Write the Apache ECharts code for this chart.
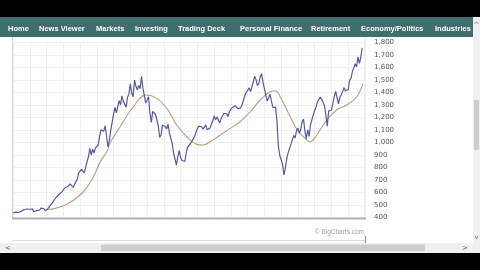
<!DOCTYPE html>
<html><head><meta charset="utf-8">
<script src="https://cdn.jsdelivr.net/npm/echarts@6/dist/echarts.min.js"></script>
<style>html,body{margin:0;padding:0;background:#fff}#c{width:480px;height:270px}</style>
</head><body><div id="c"></div>
<script>
// Monthly closes, starting Dec 1992 (t = 1993.0), one per month
const startYear = 1993.0;
const price = [
436,
439,443,452,440,450,451,448,464,459,468,462,466,
482,467,446,451,457,444,458,475,463,472,454,459,
470,487,501,515,533,545,562,562,584,582,605,616,
636,640,646,654,669,671,640,652,687,705,757,741,
786,791,757,801,848,885,954,899,947,915,955,970,
980,1049,1102,1112,1091,1134,1121,964,1017,1099,1164,1229,
1280,1238,1286,1335,1302,1373,1329,1320,1283,1363,1389,1469,
1394,1366,1499,1452,1421,1455,1431,1530,1437,1429,1315,1320,
1366,1240,1160,1249,1256,1224,1211,1134,1041,1060,1139,1148,
1130,1107,1147,1076,1067,990,912,916,820,886,936,880,
856,841,848,917,964,975,990,1008,996,1051,1058,1112,
1131,1145,1126,1107,1121,1141,1102,1104,1115,1130,1174,1212,
1181,1204,1181,1157,1192,1191,1234,1220,1229,1207,1249,1248,
1280,1281,1295,1311,1270,1270,1277,1304,1336,1378,1401,1418,
1438,1407,1421,1482,1531,1503,1455,1474,1527,1549,1481,1468,
1379,1331,1323,1386,1400,1280,1267,1283,1166,969,896,903,
826,740,798,873,919,919,987,1021,1057,1036,1096,1115,
1074,1104,1169,1187,1089,1031,1102,1049,1141,1183,1181,1258,
1286,1327,1326,1364,1345,1321,1292,1219,1131,1253,1247,1258,
1312,1366,1408,1398,1310,1362,1379,1407,1441,1412,1416,1426,
1498,1515,1569,1598,1631,1606,1686,1633,1682,1757
];
// Moving average at sparse dates
const maYears = [1995.02,1996.21,1997.2,1997.8,1998.2,1998.6,1998.8,1999.39,2000.18,2000.94,2001.58,2002.18,2002.77,2003.37,2003.97,2004.34,2004.76,2005.36,2005.96,2006.55,2007.15,2007.75,2008.34,2008.64,2008.94,2009.54,2009.93,2010.33,2010.73,2011.12,2011.72,2012.31,2012.91,2013.51,2013.88];
const maValues = [460,506,606,726,845,926,1000,1126,1286,1380,1353,1273,1140,1046,985,980,1006,1060,1113,1166,1246,1340,1406,1414,1366,1206,1106,1046,1006,1060,1180,1260,1300,1366,1473];
const navItems = ["Home","News Viewer","Markets","Investing","Trading Deck","Personal Finance","Retirement","Economy/Politics","Industries"];
const navX = [8,39,96,135,178,240,311,361,435];
const yMin = 400, yMax = 1800, yStep = 100;

const priceData = price.map((v,i)=>[startYear + i/12, v]);
const maData = maValues.map((v,i)=>[maYears[i], v]);

const chart = echarts.init(document.getElementById('c'));
const graphics = [
  {type:'rect', z:-5, shape:{x:12.5,y:36,width:352.5,height:182}, style:{fill:'#fff', stroke:'#d6d6d6', lineWidth:1}},
  {type:'line', z:50, shape:{x1:12,y1:218.5,x2:366,y2:218.5}, style:{stroke:'#b2b2b2', lineWidth:2}},
  {type:'rect', z:60, shape:{x:0,y:0,width:480,height:17}, style:{fill:'#000'}},
  {type:'rect', z:60, shape:{x:0,y:17,width:473,height:20}, style:{fill:'#3e6e6d'}},
  {type:'rect', z:60, shape:{x:473,y:17,width:7,height:236}, style:{fill:'#f0f0f0'}},
  {type:'rect', z:61, shape:{x:474,y:100,width:5,height:50}, style:{fill:'#cdcdcd'}},
  {type:'text', z:61, x:476.5, y:25, style:{text:'^', fill:'#666', font:'7px "DejaVu Sans"', align:'center', verticalAlign:'middle'}},
  {type:'text', z:61, x:476.5, y:237, style:{text:'v', fill:'#666', font:'6px "DejaVu Sans"', align:'center', verticalAlign:'middle'}},
  {type:'text', z:60, x:364, y:232, style:{text:'© BigCharts.com', fill:'#a0a0a0', font:'6.5px "Liberation Sans"', align:'right', verticalAlign:'middle'}},
  {type:'line', z:60, shape:{x1:12,y1:240.5,x2:365,y2:240.5}, style:{stroke:'#dcdcdc', lineWidth:1}},
  {type:'line', z:60, shape:{x1:365.5,y1:236,x2:365.5,y2:243}, style:{stroke:'#888', lineWidth:1}},
  {type:'rect', z:60, shape:{x:0,y:243,width:473,height:10}, style:{fill:'#f0f0f0'}},
  {type:'rect', z:61, shape:{x:101,y:244.5,width:324,height:6.5}, style:{fill:'#cdcdcd'}},
  {type:'text', z:61, x:8, y:248, style:{text:'<', fill:'#555', font:'7px "DejaVu Sans"', align:'center', verticalAlign:'middle'}},
  {type:'text', z:61, x:465, y:248, style:{text:'>', fill:'#555', font:'7px "DejaVu Sans"', align:'center', verticalAlign:'middle'}},
  {type:'rect', z:60, shape:{x:0,y:253,width:480,height:17}, style:{fill:'#000'}}
];
navItems.forEach((t,i)=>graphics.push({type:'text', z:62, x:navX[i], y:28.5, style:{text:t, fill:'#fff', font:'bold 7.5px "Liberation Sans"', align:'left', verticalAlign:'middle'}}));

chart.setOption({
  animation:false,
  backgroundColor:'#fff',
  grid:{left:13, right:115, top:42.5, bottom:52.5},
  xAxis:{type:'value', min:1993, max:2014, interval:1,
    axisLine:{show:false}, axisTick:{show:false}, axisLabel:{show:false},
    splitLine:{show:true, lineStyle:{color:'#eeeef4', width:1}}},
  yAxis:{type:'value', position:'right', min:yMin, max:yMax, interval:yStep,
    axisLine:{show:false}, axisTick:{show:false},
    axisLabel:{margin:9, color:'#555', fontSize:7, fontFamily:'DejaVu Sans',
      formatter:v=>v.toLocaleString('en-US')},
    splitLine:{show:true, lineStyle:{color:'#eeeef4', width:1}}},
  series:[
    {type:'line', data:maData, smooth:0.4, symbol:'none', lineStyle:{color:'#bb9c7c', width:1.1}, z:3},
    {type:'line', data:priceData, symbol:'none', lineStyle:{color:'#5757a8', width:1.2}, z:4}
  ],
  graphic:graphics
});
</script></body></html>
